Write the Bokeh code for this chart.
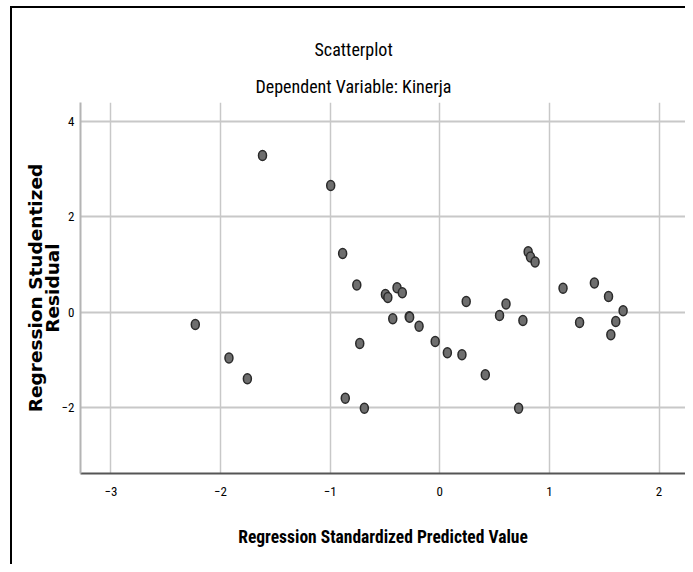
from bokeh.plotting import figure
from bokeh.models import ColumnDataSource, FixedTicker, Range1d, Title
from bokeh.embed import file_html
from bokeh.resources import INLINE

predicted = [-2.23, -1.923, -1.755, -1.617, -0.995, -0.886, -0.862, -0.757, -0.73, -0.688,
             -0.496, -0.474, -0.429, -0.39, -0.342, -0.279, -0.275, -0.189, -0.042, 0.069,
             0.202, 0.241, 0.415, 0.545, 0.604, 0.719, 0.758, 0.806, 0.827, 0.869,
             1.124, 1.275, 1.41, 1.539, 1.56, 1.605, 1.672]
residual = [-0.254, -0.958, -1.393, 3.29, 2.66, 1.235, -1.80, 0.573, -0.654, -2.013,
            0.372, 0.31, -0.137, 0.517, 0.408, -0.095, -0.105, -0.29, -0.613, -0.848,
            -0.889, 0.228, -1.31, -0.068, 0.174, -2.013, -0.172, 1.27, 1.159, 1.055,
            0.505, -0.213, 0.615, 0.331, -0.468, -0.192, 0.035]
x_ticks = [-3, -2, -1, 0, 1, 2]
y_ticks = [-2, 0, 2, 4]

title_text = "Scatterplot"
subtitle_text = "Dependent Variable: Kinerja"
x_label = "Regression Standardized Predicted Value"
y_label = "Regression Studentized\nResidual"

NARROW = "'Liberation Sans Narrow', 'Roboto Condensed', 'Liberation Sans', Arial, sans-serif"
WIDE = "'DejaVu Sans', 'Liberation Sans', sans-serif"

source = ColumnDataSource(data=dict(x=predicted, y=residual))

p = figure(width=685, height=564, output_backend="svg", toolbar_location=None,
           x_range=Range1d(-3.277, 2.241), y_range=Range1d(-3.38, 4.40),
           min_border_left=80, min_border_right=0, min_border_top=102, min_border_bottom=91)
# thin black frame lines (left and top) drawn behind a transparent canvas border
p.styles = {
    "background-color": "white",
    "background-image": "linear-gradient(#000, #000), linear-gradient(#000, #000)",
    "background-size": "2px 100%, 100% 2px",
    "background-position": "10px 6px, 10px 6px",
    "background-repeat": "no-repeat",
}
p.border_fill_color = None
p.outline_line_color = None
p.background_fill_color = "white"

sub = Title(text=subtitle_text, align="left", text_font=NARROW, text_font_size="18px",
            text_font_style="normal", text_color="black", standoff=12, offset=175)
main = Title(text=title_text, align="left", text_font=NARROW, text_font_size="18px",
             text_font_style="normal", text_color="black", standoff=16, offset=234)
p.add_layout(sub, "above")
p.add_layout(main, "above")

p.xaxis.ticker = FixedTicker(ticks=x_ticks)
p.yaxis.ticker = FixedTicker(ticks=y_ticks)
p.xgrid.ticker = FixedTicker(ticks=x_ticks)
p.ygrid.ticker = FixedTicker(ticks=y_ticks)
p.xgrid.grid_line_color = "#c8c8c8"
p.xgrid.grid_line_width = 1.5
p.ygrid.grid_line_color = "#c8c8c8"
p.ygrid.grid_line_width = 2

for ax in (p.xaxis, p.yaxis):
    ax.major_tick_out = 0
    ax.major_tick_in = 0
    ax.minor_tick_out = 0
    ax.minor_tick_in = 0
    ax.major_label_text_font = NARROW
    ax.major_label_text_font_size = "13px"
    ax.major_label_text_color = "black"

p.xaxis.axis_line_color = "#555555"
p.xaxis.axis_line_width = 2
p.yaxis.axis_line_color = "#b4b4b4"
p.yaxis.axis_line_width = 2
p.xaxis.major_label_standoff = 13
p.yaxis.major_label_standoff = 6

p.xaxis.axis_label = x_label
p.xaxis.axis_label_text_font = NARROW
p.xaxis.axis_label_text_font_size = "17.5px"
p.xaxis.axis_label_text_font_style = "bold"
p.xaxis.axis_label_text_color = "black"
p.xaxis.axis_label_standoff = 28

p.yaxis.axis_label = y_label
p.yaxis.axis_label_text_font = WIDE
p.yaxis.axis_label_text_font_size = "18.5px"
p.yaxis.axis_label_text_font_style = "bold"
p.yaxis.axis_label_text_color = "black"
p.yaxis.axis_label_text_line_height = 0.8
p.yaxis.axis_label_standoff = -4

p.ellipse(x="x", y="y", width=8, height=10, width_units="screen", height_units="screen",
          source=source, fill_color="#6e6e6e", line_color="#2a2a2a", line_width=1.5)

open("out.html", "w").write(file_html(p, INLINE))
